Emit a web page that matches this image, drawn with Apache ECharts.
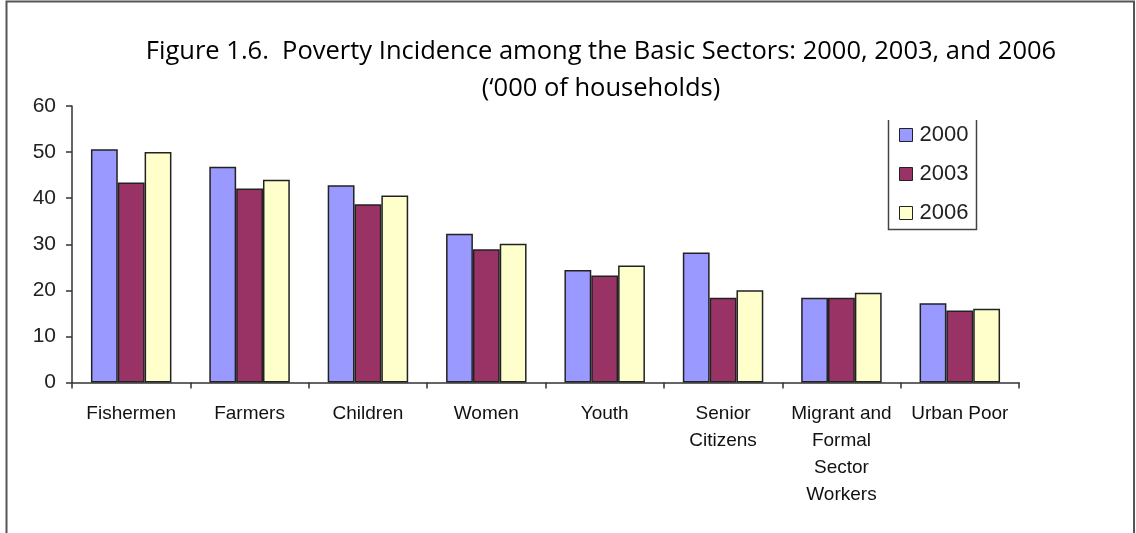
<!DOCTYPE html>
<html><head><meta charset="utf-8">
<script src="https://cdn.jsdelivr.net/npm/echarts@6/dist/echarts.min.js"></script>
<style>html,body{margin:0;padding:0;background:#fff}#c{width:1136px;height:533px}</style>
</head><body><div id="c"></div>
<script>
const categories = ['Fishermen','Farmers','Children','Women','Youth','Senior\nCitizens','Migrant and\nFormal\nSector\nWorkers','Urban Poor'];
const years = ['2000','2003','2006'];
const v2000 = [50.6, 46.8, 42.8, 32.3, 24.4, 28.2, 18.4, 17.2];
const v2003 = [43.4, 42.1, 38.7, 28.9, 23.2, 18.4, 18.4, 15.6];
const v2006 = [50.0, 44.0, 40.6, 30.1, 25.4, 20.0, 19.5, 16.0];
const yTicks = {min: 0, max: 60, interval: 10};
const colors = ['#9999FF', '#993366', '#FFFFCC'];

const chart = echarts.init(document.getElementById('c'), null, {renderer: 'canvas'});
const seriesData = [v2000, v2003, v2006];
chart.setOption({
  animation: false,
  backgroundColor: '#fff',
  title: {
    text: 'Figure 1.6.  Poverty Incidence among the Basic Sectors: 2000, 2003, and 2006',
    subtext: '(\u2018000 of households)',
    left: 596, top: 34, textAlign: 'center', itemGap: 11,
    textStyle: {fontFamily: 'Open Sans', fontSize: 25.5, fontWeight: 'normal', color: '#000'},
    subtextStyle: {fontFamily: 'Open Sans', fontSize: 25.5, color: '#000'}
  },
  legend: {
    orient: 'vertical', left: 894, top: 119, itemWidth: 13, itemHeight: 13, itemGap: 17,
    icon: 'rect', data: years,
    textStyle: {fontFamily: 'Liberation Sans', fontSize: 22, color: '#222', padding: [0,0,0,2]},
    itemStyle: {borderColor: '#222', borderWidth: 1}
  },
  grid: {left: 72, right: 117, top: 106, bottom: 150.5, containLabel: false},
  xAxis: {
    type: 'category', data: categories,
    axisLine: {lineStyle: {color: '#333', width: 1.5}},
    axisTick: {show: true, length: 6, lineStyle: {color: '#333', width: 1.5}},
    axisLabel: {interval: 0, margin: 18, lineHeight: 27, fontFamily: 'Liberation Sans', fontSize: 19, color: '#111'}
  },
  yAxis: {
    type: 'value', min: yTicks.min, max: yTicks.max, interval: yTicks.interval,
    splitLine: {show: false},
    axisLine: {show: true, lineStyle: {color: '#333', width: 1.5}},
    axisTick: {show: true, length: 6, lineStyle: {color: '#333', width: 1.5}},
    axisLabel: {margin: 16, fontFamily: 'Liberation Sans', fontSize: 21, color: '#222'}
  },
  series: years.map((y, i) => ({
    name: y, type: 'bar', data: seriesData[i],
    barGap: '0%', barCategoryGap: '32%',
    itemStyle: {color: colors[i], borderColor: '#222', borderWidth: 1.5}
  })),
  graphic: [
    {type: 'polyline', shape: {points: [[6.5, 540], [6.5, 1.5], [1134, 1.5], [1134, 540]]}, style: {fill: null, stroke: '#555', lineWidth: 2}, silent: true},
    {type: 'polyline', shape: {points: [[888.5, 120], [888.5, 229.5], [976.5, 229.5], [976.5, 120]]}, style: {fill: null, stroke: '#444', lineWidth: 1.5}, silent: true}
  ]
});
</script></body></html>
